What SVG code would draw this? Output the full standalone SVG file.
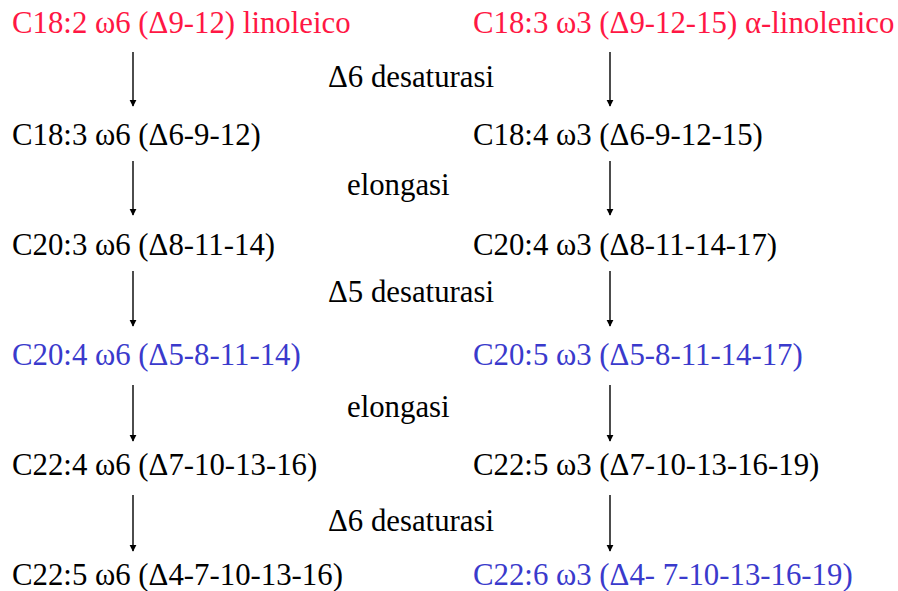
<svg xmlns="http://www.w3.org/2000/svg" width="898" height="591" viewBox="0 0 898 591">
<defs>
<marker id="ah" viewBox="0 0 10 10" refX="9" refY="5" markerWidth="7" markerHeight="9" markerUnits="userSpaceOnUse" orient="auto">
<path d="M0,0 L10,5 L0,10 z" fill="#000"/>
</marker>
<style>
text{font-family:"Liberation Serif","DejaVu Serif",serif;font-size:30.8px;fill:#000}
.r{fill:#ff1744}
.b{fill:#3a3acc}
.c line{stroke:#000;stroke-width:1.4;marker-end:url(#ah)}
</style>
</defs>
<rect width="898" height="591" fill="#fff"/>
<g id="n1"><text class="r" x="12" y="33">C18:2 ω6 (Δ9-12) linoleico</text></g>
<g id="n2"><text class="r" x="473" y="33">C18:3 ω3 (Δ9-12-15) α-linolenico</text></g>
<g id="l1"><text x="328" y="87">Δ6 desaturasi</text></g>
<g id="n3"><text x="12" y="145">C18:3 ω6 (Δ6-9-12)</text></g>
<g id="n4"><text x="473" y="145">C18:4 ω3 (Δ6-9-12-15)</text></g>
<g id="l2"><text x="347" y="195">elongasi</text></g>
<g id="n5"><text x="12" y="255">C20:3 ω6 (Δ8-11-14)</text></g>
<g id="n6"><text x="473" y="255">C20:4 ω3 (Δ8-11-14-17)</text></g>
<g id="l3"><text x="328" y="302">Δ5 desaturasi</text></g>
<g id="n7"><text class="b" x="12" y="365">C20:4 ω6 (Δ5-8-11-14)</text></g>
<g id="n8"><text class="b" x="473" y="365">C20:5 ω3 (Δ5-8-11-14-17)</text></g>
<g id="l4"><text x="347" y="417">elongasi</text></g>
<g id="n9"><text x="12" y="475">C22:4 ω6 (Δ7-10-13-16)</text></g>
<g id="n10"><text x="473" y="475">C22:5 ω3 (Δ7-10-13-16-19)</text></g>
<g id="l5"><text x="328" y="531">Δ6 desaturasi</text></g>
<g id="n11"><text x="12" y="585">C22:5 ω6 (Δ4-7-10-13-16)</text></g>
<g id="n12"><text class="b" x="473" y="585">C22:6 ω3 (Δ4- 7-10-13-16-19)</text></g>
<g id="connectors" class="c">
<line x1="133" y1="52" x2="133" y2="106"/>
<line x1="610" y1="52" x2="610" y2="106"/>
<line x1="133" y1="161" x2="133" y2="215"/>
<line x1="610" y1="161" x2="610" y2="215"/>
<line x1="133" y1="271" x2="133" y2="326"/>
<line x1="610" y1="271" x2="610" y2="326"/>
<line x1="133" y1="385" x2="133" y2="441"/>
<line x1="610" y1="385" x2="610" y2="441"/>
<line x1="133" y1="495" x2="133" y2="551"/>
<line x1="610" y1="495" x2="610" y2="551"/>
</g>
</svg>
